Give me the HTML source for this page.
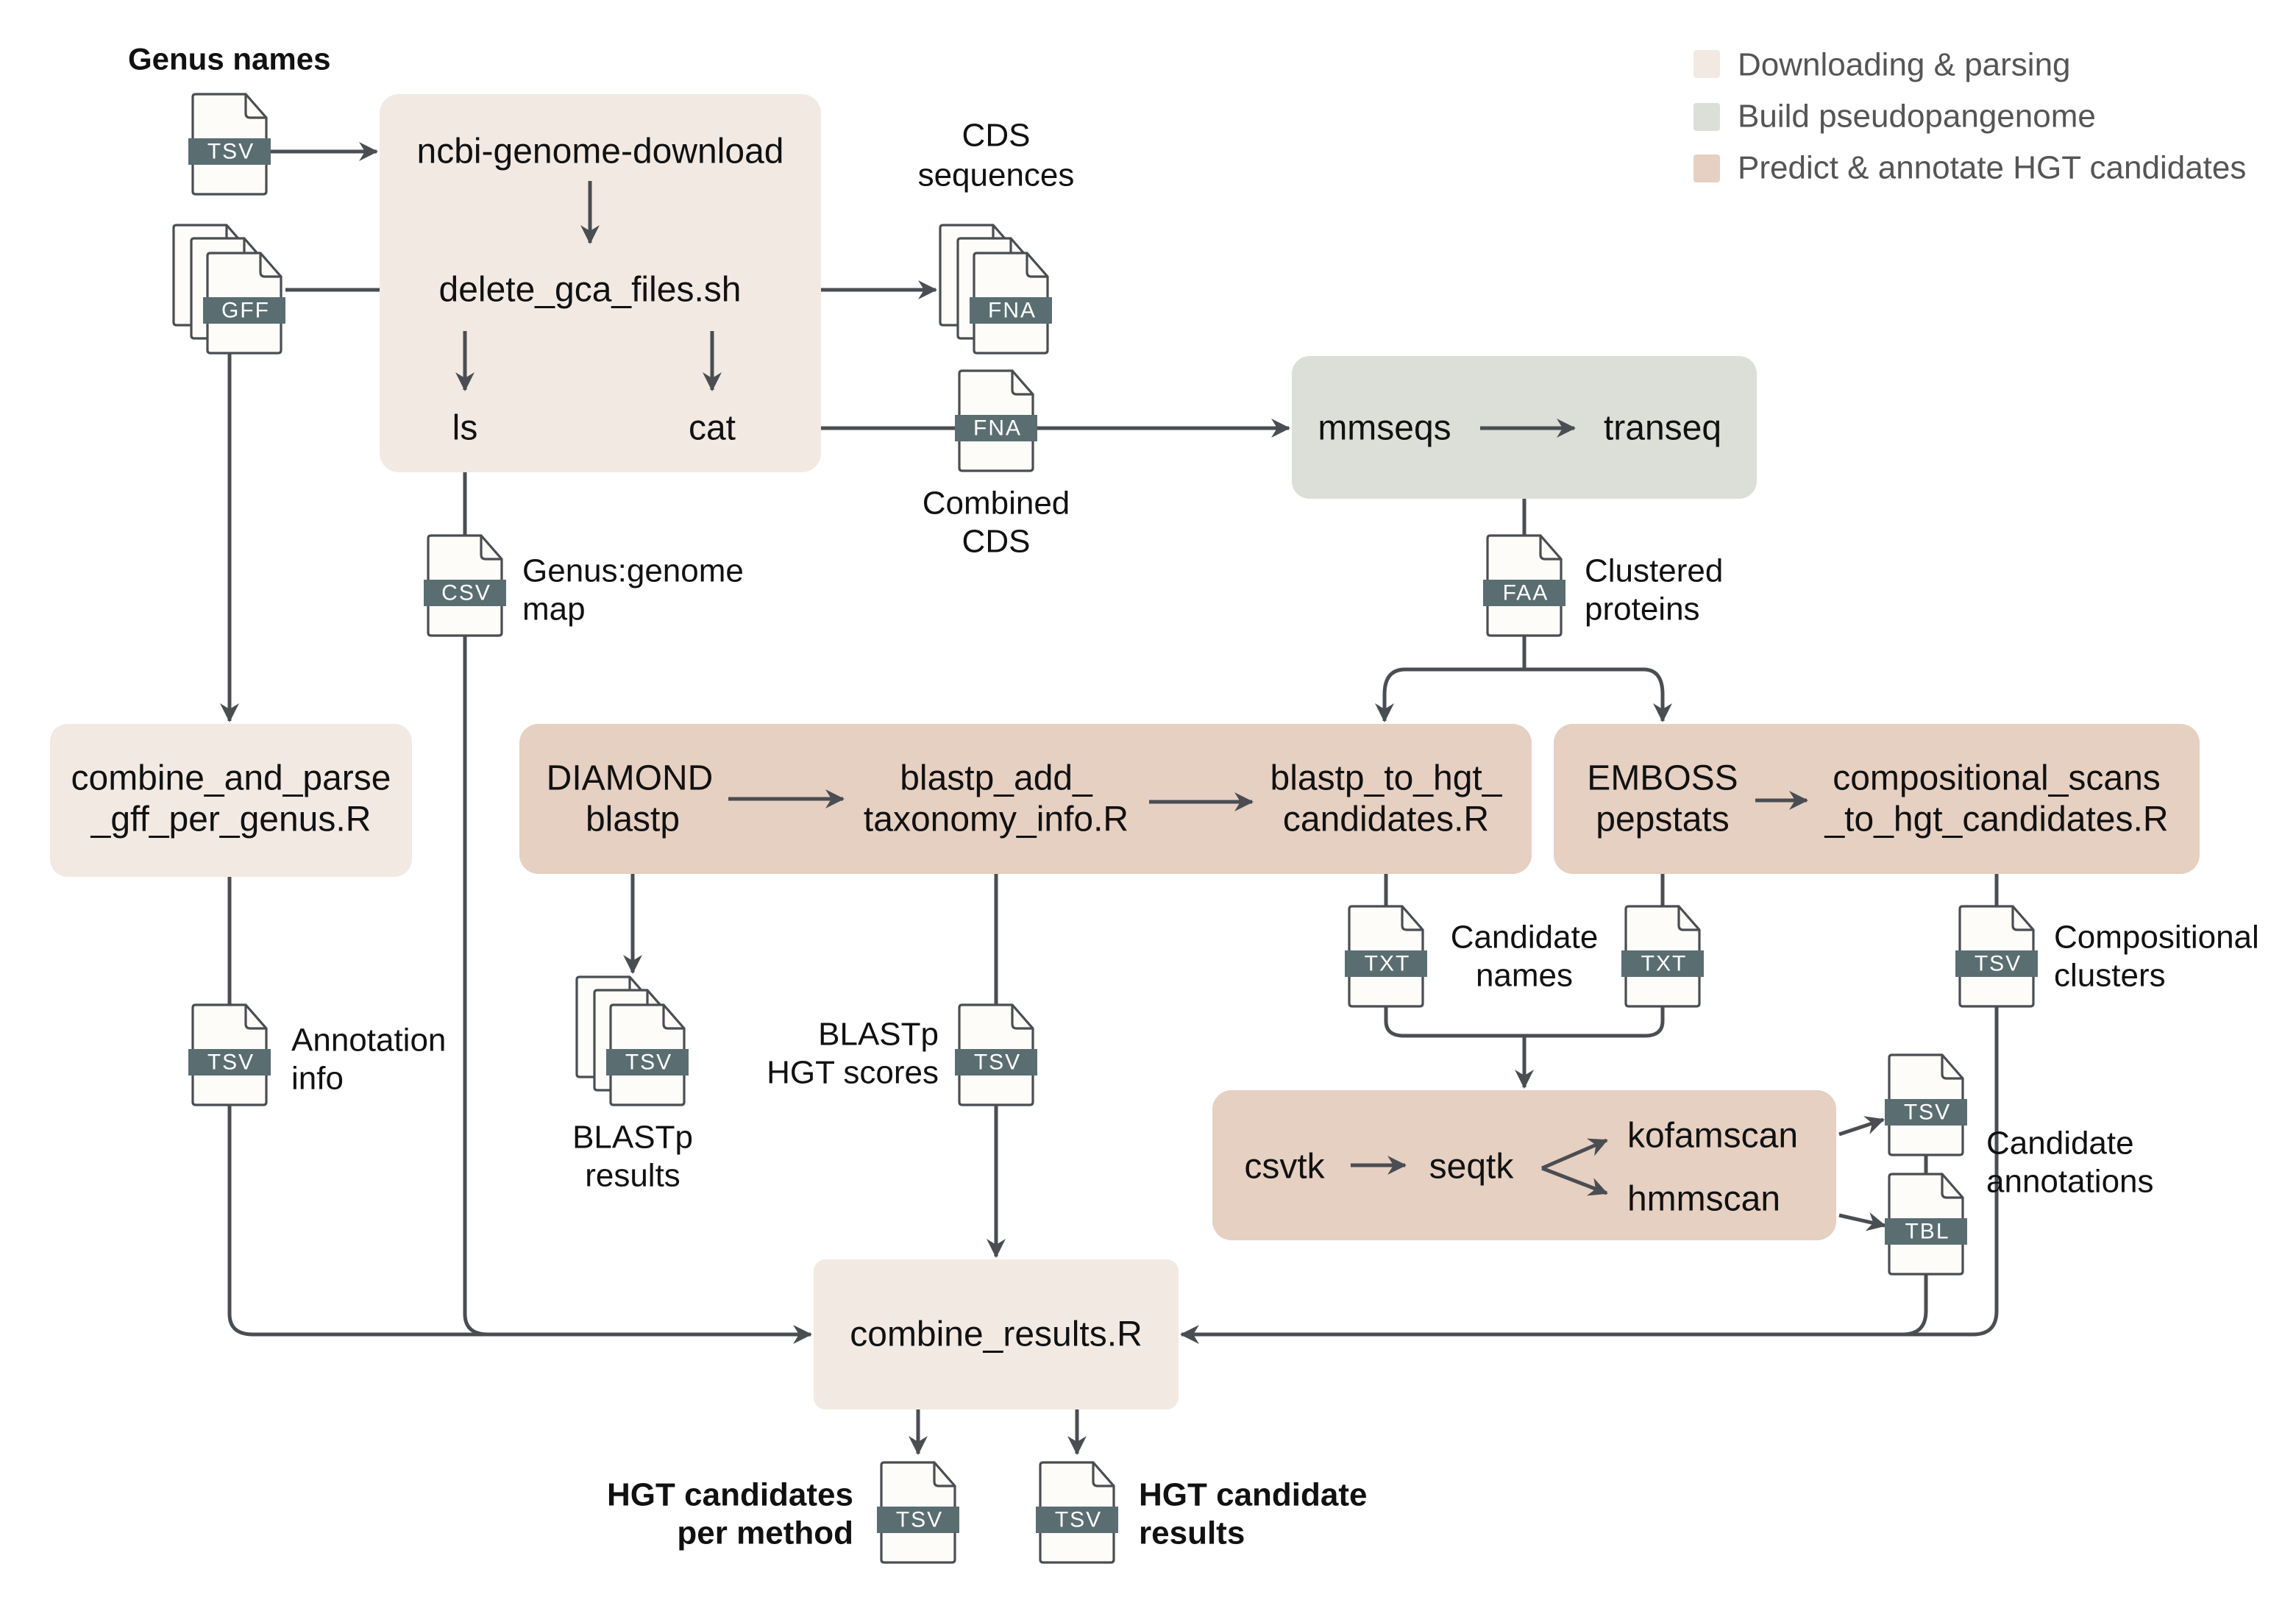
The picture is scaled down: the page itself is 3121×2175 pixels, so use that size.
<!DOCTYPE html>
<html><head><meta charset="utf-8"><style>
html,body{margin:0;padding:0;background:#fff;}
svg{display:block;}
text{font-family:"Liberation Sans",Arial,sans-serif;}
</style></head><body>
<svg width="3121" height="2175" viewBox="0 0 1560.5 1087.5" xmlns="http://www.w3.org/2000/svg">
<defs>
<marker id="ah" markerWidth="16" markerHeight="16" refX="13" refY="8" orient="auto" markerUnits="userSpaceOnUse">
<path d="M14,8 L1,1.5 L5,8 L1,14.5 Z" fill="#4a4d52"/>
</marker>
<g id="page">
<path d="M-25,2 Q-25,0 -23,0 L11,0 L25,16 L25,66 Q25,68 23,68 L-23,68 Q-25,68 -25,66 Z" fill="#fdfcf8" stroke="#4a4d52" stroke-width="1.6"/>
<path d="M11,0 L11,13 Q11,16 14,16 L25,16" fill="none" stroke="#4a4d52" stroke-width="1.6"/>
</g>
<g id="file">
<use href="#page"/>
<rect x="-28" y="30" width="56" height="18" fill="#5a6e72"/>
</g>
<g id="file3">
<use href="#page" x="-23" y="-19"/>
<use href="#page" x="-11" y="-10"/>
<use href="#file" x="0" y="0"/>
</g>
</defs>

<!-- legend -->
<rect x="1151" y="34" width="18" height="19" rx="2" fill="#f2e9e3"/>
<rect x="1151" y="70" width="18" height="19" rx="2" fill="#dcdfd7"/>
<rect x="1151" y="105" width="18" height="19" rx="2" fill="#e6d0c2"/>
<g font-size="22" fill="#555" dominant-baseline="central">
<text x="1181" y="44">Downloading &amp; parsing</text>
<text x="1181" y="79">Build pseudopangenome</text>
<text x="1181" y="114">Predict &amp; annotate HGT candidates</text>
</g>

<!-- boxes -->
<rect x="258" y="64" width="300" height="257" rx="13" fill="#f2e9e3"/>
<rect x="34" y="492" width="246" height="104" rx="12" fill="#f2e9e3"/>
<rect x="878" y="242" width="316" height="97" rx="12" fill="#dcdfd7"/>
<rect x="353" y="492" width="688" height="102" rx="13" fill="#e6d0c2"/>
<rect x="1056" y="492" width="439" height="102" rx="13" fill="#e6d0c2"/>
<rect x="824" y="741" width="424" height="102" rx="13" fill="#e6d0c2"/>
<rect x="553" y="856" width="248" height="102" rx="8" fill="#f2e9e3"/>

<!-- connectors -->
<g fill="none" stroke="#4a4d52" stroke-width="2.5">
<path d="M184,103 L256,103" marker-end="url(#ah)"/>
<path d="M401,123 L401,165" marker-end="url(#ah)"/>
<path d="M194,197 L258,197"/>
<path d="M316,225 L316,265" marker-end="url(#ah)"/>
<path d="M484,225 L484,265" marker-end="url(#ah)"/>
<path d="M558,197 L636,197" marker-end="url(#ah)"/>
<path d="M558,291 L876,291" marker-end="url(#ah)"/>
<path d="M1006,291 L1070,291" marker-end="url(#ah)"/>
<path d="M156,240 L156,490" marker-end="url(#ah)"/>
<path d="M316,321 L316,364"/>
<path d="M316,432 L316,893 Q316,907 332,907 L551,907" marker-end="url(#ah)"/>
<path d="M156,596 L156,683"/>
<path d="M156,751 L156,893 Q156,907 172,907 L330,907"/>
<path d="M1036,339 L1036,364"/>
<path d="M1036,432 L1036,455"/>
<path d="M1036,455 L955,455 Q941,455 941,472 L941,490" marker-end="url(#ah)"/>
<path d="M1036,455 L1117,455 Q1130,455 1130,472 L1130,490" marker-end="url(#ah)"/>
<path d="M495,543 L573,543" marker-end="url(#ah)"/>
<path d="M781,545 L851,545" marker-end="url(#ah)"/>
<path d="M1193,544 L1228,544" marker-end="url(#ah)"/>
<path d="M430,594 L430,661" marker-end="url(#ah)"/>
<path d="M677,594 L677,683"/>
<path d="M677,751 L677,854" marker-end="url(#ah)"/>
<path d="M942,594 L942,616"/>
<path d="M1130,594 L1130,616"/>
<path d="M1357,594 L1357,616"/>
<path d="M942,684 L942,694 Q942,704 954,704 L1118,704 Q1130,704 1130,694 L1130,684"/>
<path d="M1036,704 L1036,739" marker-end="url(#ah)"/>
<path d="M918,792 L955,792" marker-end="url(#ah)"/>
<path d="M1048,794 L1092,811" marker-end="url(#ah)"/>
<path d="M1048,794 L1092,775" marker-end="url(#ah)"/>
<path d="M1250,771 L1280,761" marker-end="url(#ah)"/>
<path d="M1250,826 L1281,833" marker-end="url(#ah)"/>
<path d="M1309,785 L1309,798"/>
<path d="M1357,684 L1357,891 Q1357,907 1341,907 L803,907" marker-end="url(#ah)"/>
<path d="M1309,866 L1309,891 Q1309,907 1293,907"/>
<path d="M624,958 L624,988" marker-end="url(#ah)"/>
<path d="M732,958 L732,988" marker-end="url(#ah)"/>
</g>

<!-- file icons -->
<use href="#file" x="156" y="64"/>
<use href="#file3" x="166" y="172"/>
<use href="#file3" x="687" y="172"/>
<use href="#file" x="677" y="252"/>
<use href="#file" x="316" y="364"/>
<use href="#file" x="1036" y="364"/>
<use href="#file" x="942" y="616"/>
<use href="#file" x="1130" y="616"/>
<use href="#file" x="1357" y="616"/>
<use href="#file" x="156" y="683"/>
<use href="#file3" x="440" y="683"/>
<use href="#file" x="677" y="683"/>
<use href="#file" x="1309" y="717"/>
<use href="#file" x="1309" y="798"/>
<use href="#file" x="624" y="994"/>
<use href="#file" x="732" y="994"/>
<g font-family="'DejaVu Sans Mono','Liberation Mono',monospace" font-size="15" letter-spacing="1" fill="#fff" text-anchor="middle" dominant-baseline="central">
<text x="157" y="103">TSV</text>
<text x="167" y="211">GFF</text>
<text x="688" y="211">FNA</text>
<text x="678" y="291">FNA</text>
<text x="317" y="403">CSV</text>
<text x="1037" y="403">FAA</text>
<text x="943" y="655">TXT</text>
<text x="1131" y="655">TXT</text>
<text x="1358" y="655">TSV</text>
<text x="157" y="722">TSV</text>
<text x="441" y="722">TSV</text>
<text x="678" y="722">TSV</text>
<text x="1310" y="756">TSV</text>
<text x="1310" y="837">TBL</text>
<text x="625" y="1033">TSV</text>
<text x="733" y="1033">TSV</text>
</g>

<!-- box text -->
<g font-size="24" fill="#111" text-anchor="middle" dominant-baseline="central">
<text x="408" y="103">ncbi-genome-download</text>
<text x="401" y="197">delete_gca_files.sh</text>
<text x="316" y="291">ls</text>
<text x="484" y="291">cat</text>
<text x="157" y="529">combine_and_parse</text>
<text x="157" y="557">_gff_per_genus.R</text>
<text x="941" y="291">mmseqs</text>
<text x="1130" y="291">transeq</text>
<text x="428" y="529">DIAMOND</text>
<text x="430" y="557">blastp</text>
<text x="677" y="529">blastp_add_</text>
<text x="677" y="557">taxonomy_info.R</text>
<text x="942" y="529">blastp_to_hgt_</text>
<text x="942" y="557">candidates.R</text>
<text x="1130" y="529">EMBOSS</text>
<text x="1130" y="557">pepstats</text>
<text x="1357" y="529">compositional_scans</text>
<text x="1357" y="557">_to_hgt_candidates.R</text>
<text x="873" y="793">csvtk</text>
<text x="1000" y="793">seqtk</text>
<text x="1164" y="772">kofamscan</text>
<text x="1158" y="815">hmmscan</text>
<text x="677" y="907">combine_results.R</text>
</g>

<!-- labels -->
<g font-size="22" fill="#111" dominant-baseline="central">
<text x="87" y="40" font-weight="bold" font-size="21">Genus names</text>
<text x="677" y="92" text-anchor="middle">CDS</text>
<text x="677" y="119" text-anchor="middle">sequences</text>
<text x="677" y="342" text-anchor="middle">Combined</text>
<text x="677" y="368" text-anchor="middle">CDS</text>
<text x="355" y="388">Genus:genome</text>
<text x="355" y="414">map</text>
<text x="1077" y="388">Clustered</text>
<text x="1077" y="414">proteins</text>
<text x="1036" y="637" text-anchor="middle">Candidate</text>
<text x="1036" y="663" text-anchor="middle">names</text>
<text x="1396" y="637">Compositional</text>
<text x="1396" y="663">clusters</text>
<text x="198" y="707">Annotation</text>
<text x="198" y="733">info</text>
<text x="430" y="773" text-anchor="middle">BLASTp</text>
<text x="430" y="799" text-anchor="middle">results</text>
<text x="638" y="703" text-anchor="end">BLASTp</text>
<text x="638" y="729" text-anchor="end">HGT scores</text>
<text x="1350" y="777">Candidate</text>
<text x="1350" y="803">annotations</text>
<text x="580" y="1016" text-anchor="end" font-weight="bold">HGT candidates</text>
<text x="580" y="1042" text-anchor="end" font-weight="bold">per method</text>
<text x="774" y="1016" font-weight="bold">HGT candidate</text>
<text x="774" y="1042" font-weight="bold">results</text>
</g>
</svg>
</body></html>
